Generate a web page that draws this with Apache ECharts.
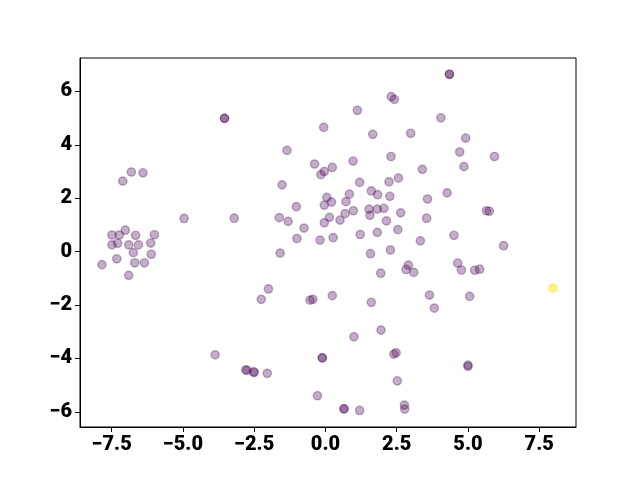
<!DOCTYPE html>
<html>
<head>
<meta charset="utf-8">
<script src="https://cdn.jsdelivr.net/npm/echarts@6/dist/echarts.min.js"></script>
<style>
  html, body { margin: 0; padding: 0; background: #fff; }
  #main { width: 640px; height: 480px; }
</style>
</head>
<body>
<div id="main"></div>
<script>
// points, [x, y]; repeated pairs are the darker (overlapping) dots
let purplePoints = [
    [-7.11, 2.64], [-6.81, 2.98], [-6.40, 2.95], [-7.49, 0.62], [-7.23, 0.62],
    [-7.02, 0.80], [-6.66, 0.61], [-6.00, 0.63], [-7.49, 0.25], [-7.29, 0.31],
    [-6.90, 0.25], [-6.56, 0.25], [-6.13, 0.32], [-6.74, -0.04], [-6.11, -0.10],
    [-7.32, -0.27], [-7.84, -0.49], [-6.69, -0.42], [-6.35, -0.42], [-6.90, -0.89],
    [-4.96, 1.24], [-3.20, 1.25], [-3.54, 4.99], [-3.54, 4.99], [-3.87, -3.87],
    [-2.80, -4.43], [-2.75, -4.45], [-2.52, -4.50], [-2.50, -4.53], [-2.04, -4.56],
    [-2.00, -1.40], [-2.25, -1.79], [-0.54, -1.82], [-0.44, -1.79], [-0.11, -3.98],
    [-0.11, -3.98], [-0.28, -5.40], [0.65, -5.89], [0.65, -5.89], [1.20, -5.95],
    [2.77, -5.75], [2.78, -5.90], [2.52, -4.84], [2.40, -3.84], [2.48, -3.79],
    [5.00, -4.25], [5.00, -4.30], [1.00, -3.19], [1.95, -2.94], [0.24, -1.65],
    [1.61, -1.90], [3.65, -1.63], [3.82, -2.12], [5.06, -1.68],
    [-1.59, -0.06], [-1.00, 0.49], [-0.19, 0.43], [0.27, 0.52], [-0.75, 0.88],
    [-0.04, 1.08], [-1.62, 1.27], [-1.31, 1.13], [-1.02, 1.68], [0.05, 2.03],
    [-0.04, 1.74], [0.21, 1.85], [0.72, 1.87], [0.98, 1.53], [0.69, 1.42],
    [0.51, 1.18], [0.14, 1.28], [-0.06, 4.65], [-1.35, 3.79], [-0.38, 3.28],
    [-0.04, 3.00], [-0.16, 2.88], [-1.52, 2.50], [0.24, 3.15], [0.97, 3.39],
    [1.20, 2.59], [0.84, 2.15], [1.61, 2.27], [1.83, 2.13], [2.23, 2.61],
    [2.56, 2.75], [2.26, 2.07], [2.30, 3.56], [2.31, 5.80], [2.42, 5.70],
    [1.12, 5.29], [1.66, 4.39], [2.99, 4.43], [4.05, 5.01], [4.35, 6.64],
    [4.35, 6.64], [4.92, 4.25], [4.71, 3.73], [5.93, 3.56], [4.86, 3.18],
    [3.40, 3.08], [4.27, 2.20], [3.58, 1.97], [1.53, 1.59], [1.82, 1.59],
    [2.05, 1.62], [1.56, 1.36], [2.64, 1.45], [2.14, 1.15], [3.55, 1.25],
    [5.65, 1.53], [5.75, 1.51], [1.22, 0.64], [1.82, 0.72], [2.54, 0.82],
    [4.51, 0.61], [3.33, 0.40], [6.25, 0.22], [1.58, -0.08], [2.28, 0.06],
    [2.91, -0.51], [2.83, -0.67], [3.10, -0.78], [1.94, -0.81], [4.64, -0.43],
    [4.77, -0.69], [5.24, -0.70], [5.41, -0.66]
];
let yellowPoints = [[7.99, -1.37], [7.99, -1.37]];

let xTicks = [-7.5, -5, -2.5, 0, 2.5, 5, 7.5];
let yTicks = [-6, -4, -2, 0, 2, 4, 6];

let minusSign = function (s) {
    return s.replace('-', '\u2212');
};

let labelFont = {
    color: '#000',
    fontFamily: 'Roboto',
    fontWeight: 900,
    fontSize: 20
};

let option = {
    animation: false,
    backgroundColor: '#fff',
    grid: {
        left: 80,
        right: 64,
        top: 58,
        bottom: 53,
        show: true,
        borderColor: '#000',
        borderWidth: 1,
        backgroundColor: 'transparent'
    },
    xAxis: {
        type: 'value',
        min: -8.61,
        max: 8.79,
        axisLine: { show: true, onZero: false, lineStyle: { color: '#000', width: 1 } },
        axisTick: { show: true, length: 5, customValues: xTicks, lineStyle: { color: '#000' } },
        axisLabel: Object.assign({
            margin: 8,
            customValues: xTicks,
            formatter: function (v) { return minusSign(v.toFixed(1)); }
        }, labelFont),
        splitLine: { show: false }
    },
    yAxis: {
        type: 'value',
        min: -6.57,
        max: 7.25,
        axisLine: { show: true, onZero: false, lineStyle: { color: '#000', width: 1 } },
        axisTick: { show: true, length: 5, customValues: yTicks, lineStyle: { color: '#000' } },
        axisLabel: Object.assign({
            margin: 8,
            customValues: yTicks,
            formatter: function (v) { return minusSign(String(v)); }
        }, labelFont),
        splitLine: { show: false }
    },
    series: [{
        type: 'scatter',
        symbolSize: 8.3,
        data: purplePoints,
        itemStyle: {
            color: '#440154',
            borderColor: '#440154',
            borderWidth: 1.4,
            opacity: 0.32
        }
    }, {
        type: 'scatter',
        symbolSize: 8.3,
        data: yellowPoints,
        itemStyle: {
            color: '#fde725',
            borderColor: '#fde725',
            borderWidth: 1.4,
            opacity: 0.32
        }
    }]
};

echarts.init(document.getElementById('main')).setOption(option);
</script>
</body>
</html>
